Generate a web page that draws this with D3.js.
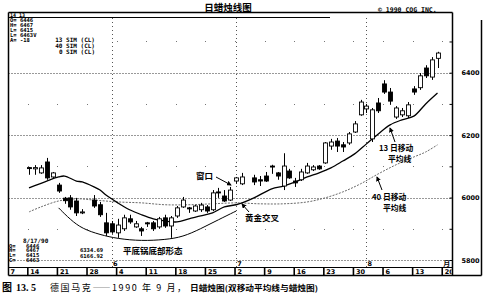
<!DOCTYPE html>
<html lang="zh">
<head>
<meta charset="utf-8">
<title>日蜡烛线图</title>
<script src="https://d3js.org/d3.v7.min.js"></script>
<style>
body { margin: 0; background: #fff; }
svg { display: block; font-family: "DejaVu Sans", sans-serif; }
.cjk { font-family: "Noto Sans CJK SC", sans-serif; font-weight: 700; }
.mono { font-family: "DejaVu Sans Mono", monospace; font-weight: 700; }
.num { font-family: "DejaVu Sans", sans-serif; font-weight: 700; }
</style>
</head>
<body>
<svg width="483" height="297"></svg>
<script>
// daily candles, German mark, May - Aug 1990
var candleDates = ["5/14","5/15","5/16","5/17","5/18","5/21","5/22","5/23","5/24","5/25",
  "5/29","5/30","5/31","6/1","6/4","6/5","6/6","6/7","6/8","6/11","6/12","6/13","6/14","6/15",
  "6/18","6/19","6/20","6/21","6/22","6/25","6/26","6/27","6/28","6/29","7/2","7/3","7/5","7/6",
  "7/9","7/10","7/11","7/12","7/13","7/16","7/17","7/18","7/19","7/20","7/23","7/24","7/25","7/26",
  "7/27","7/30","7/31","8/1","8/2","8/3","8/6","8/7","8/8","8/9","8/10","8/13","8/14","8/15","8/16","8/17"];
var openV  = [6096,6092,6079,6114,6066,6040,5998,5999,5989,5951,5992,5977,5919,5916,5887,5900,5932,5906,5900,5919,5919,5906,5935,5909,
  5941,5970,5967,5957,5961,5970,5961,6018,6005,5992,6053,6044,6063,6057,6069,6101,6079,6037,6085,6053,6057,6079,6089,6101,
  6111,6165,6181,6169,6175,6210,6265,6284,6188,6303,6364,6338,6258,6265,6262,6348,6352,6415,6386,6446];
var highV  = [6098,6104,6104,6127,6082,6047,6002,6008,5999,5963,6008,5986,5951,5925,5932,5945,5945,5925,5906,5922,5925,5938,5945,5941,
  5973,6002,5970,5976,5983,5976,6024,6031,6024,6034,6066,6079,6073,6069,6082,6105,6082,6142,6092,6063,6092,6111,6104,6104,
  6178,6188,6191,6178,6210,6245,6313,6300,6287,6319,6376,6351,6293,6287,6306,6357,6399,6424,6450,6467];
var lowV   = [6073,6073,6076,6057,6063,6015,5980,5961,5941,5947,5967,5938,5877,5884,5871,5893,5916,5903,5877,5906,5893,5900,5903,5871,
  5935,5967,5951,5954,5954,5951,5957,5999,5986,5989,6044,6040,6040,6037,6050,6076,6057,6024,6060,6034,6053,6076,6085,6089,
  6108,6153,6146,6146,6169,6207,6262,6271,6178,6271,6332,6297,6252,6258,6255,6329,6345,6383,6377,6415];
var closeV = [6094,6096,6095,6063,6079,6021,5990,5970,5951,5954,5973,5945,5887,5890,5912,5935,5922,5916,5893,5918,5900,5932,5909,5935,
  5967,5992,5966,5973,5976,5957,6015,6015,5989,6024,6063,6066,6050,6053,6053,6098,6069,6101,6063,6047,6082,6101,6098,6092,
  6175,6178,6165,6162,6204,6236,6306,6293,6281,6278,6338,6309,6287,6278,6297,6338,6390,6390,6441,6463];

// 13-day and 40-day simple moving averages, read at a few dates
var ma13Dates = ["5/14","5/17","5/21","5/22","5/24","5/25","5/29","5/30","5/31","6/4","6/6","6/8","6/12","6/14","6/18","6/20",
  "6/22","6/26","6/28","7/2","7/3","7/5","7/10","7/12","7/16","7/18","7/20","7/24","7/26","7/30","8/1","8/3","8/7","8/9","8/13","8/15","8/17"];
var ma13Vals = [6031,6053,6066,6069,6053,6050,6034,6024,6008,5983,5961,5945,5932,5925,5922,5932,
  5941,5951,5970,5977,5983,5999,6028,6037,6050,6066,6079,6095,6117,6140,6172,6204,6233,6249,6261,6300,6335];
var ma40Dates = ["5/14","5/16","5/21","5/24","5/29","6/4","6/8","6/14","6/20","6/26","7/2","7/6","7/12","7/18","7/23","7/26",
  "7/31","8/3","8/8","8/13","8/15","8/17"];
var ma40Vals = [5954,5970,5989,5996,5992,5986,5983,5977,5977,5980,5983,5980,5980,5986,5999,6018,
  6044,6076,6105,6130,6146,6169];

// hand-drawn "frying pan bottom" arc
var panDates = ["5/21","5/23","5/25","5/30","6/4","6/8","6/14","6/19","6/22","6/27","7/2"];
var panVals  = [5967,5929,5900,5881,5868,5861,5865,5874,5900,5929,5957];

var weekStarts = ["5/7","5/14","5/21","5/28","6/4","6/11","6/18","6/25","7/2","7/9","7/16","7/23","7/30","8/6","8/13","8/20"];
var weekLabels = ["7","14","21","28","4","11","18","25","2","9","16","23","30","6","13","20"];
var monthStarts = ["6/1","7/2","8/1"];
var monthLabels = ["6","7","8"];
var priceTicks = [5800,6000,6200,6400];
var minorLevels = [5900,6100,6300,6500];

var svg = d3.select("svg");
var pLeft = 8.5, pRight = 452.5, pTop = 12.5, pBottom = 267.5, stripBottom = 275.5;

var base = new Date(1990, 4, 7);
function slotOf(s) {
  var p = s.split("/");
  var n = d3.timeDay.count(base, new Date(1990, +p[0] - 1, +p[1]));
  return Math.floor(n / 7) * 5 + n % 7;
}

var x = d3.scaleLinear().domain([5, 74]).range([29, 437.5]);
var y = d3.scaleLinear().domain([5800, 6400]).range([260, 72.7]);

svg.append("rect").attr("width", 483).attr("height", 297).attr("fill", "#fff");

var defs = svg.append("defs");
defs.append("clipPath").attr("id", "plotclip")
  .append("rect").attr("x", pLeft + 0.5).attr("y", pTop + 0.5)
  .attr("width", pRight - pLeft - 1).attr("height", pBottom - pTop - 1);
defs.append("clipPath").attr("id", "stripclip")
  .append("rect").attr("x", pLeft).attr("y", pBottom).attr("width", pRight - pLeft - 1).attr("height", 9);
defs.append("marker").attr("id", "arr")
  .attr("viewBox", "0 0 6 6").attr("refX", 5).attr("refY", 3)
  .attr("markerWidth", 5).attr("markerHeight", 5).attr("orient", "auto")
  .append("path").attr("d", "M0,0L6,3L0,6z").attr("fill", "#000");

// grid
var grid = svg.append("g");
grid.selectAll(".hg").data(priceTicks).enter().append("line")
  .attr("x1", pLeft).attr("x2", pRight)
  .attr("y1", function(d) { return Math.round(y(d)) + 0.5; })
  .attr("y2", function(d) { return Math.round(y(d)) + 0.5; })
  .attr("stroke", "#333").attr("stroke-width", 1).attr("stroke-dasharray", "1,2");
grid.selectAll(".vg").data(monthStarts).enter().append("line")
  .attr("x1", function(d) { return Math.round(x(slotOf(d))) + 0.5; })
  .attr("x2", function(d) { return Math.round(x(slotOf(d))) + 0.5; })
  .attr("y1", 18).attr("y2", pBottom)
  .attr("stroke", "#555").attr("stroke-width", 1).attr("stroke-dasharray", "1,3");
minorLevels.forEach(function(v) {
  grid.selectAll(null).data(weekStarts.slice(1)).enter().append("rect")
    .attr("x", function(d) { return Math.round(x(slotOf(d) - 0.2)); })
    .attr("y", Math.round(y(v)))
    .attr("width", 1).attr("height", 1).attr("fill", "#777");
});

// frame
var frame = svg.append("g").attr("stroke", "#000").attr("fill", "none");
frame.append("line").attr("x1", pLeft).attr("x2", pRight).attr("y1", pTop).attr("y2", pTop).attr("stroke-width", 1.5);
frame.append("line").attr("x1", pLeft).attr("x2", 330).attr("y1", 17.5).attr("y2", 17.5).attr("stroke-width", 1.2);
frame.append("line").attr("x1", pLeft).attr("x2", pLeft).attr("y1", pTop).attr("y2", stripBottom).attr("stroke-width", 1.5);
frame.append("line").attr("x1", pRight).attr("x2", pRight).attr("y1", pTop).attr("y2", stripBottom).attr("stroke-width", 1.5);
frame.append("line").attr("x1", 481.5).attr("x2", 481.5).attr("y1", 20).attr("y2", stripBottom).attr("stroke-width", 1.5);
frame.append("line").attr("x1", pLeft).attr("x2", pRight).attr("y1", pBottom).attr("y2", pBottom).attr("stroke-width", 1.2);
frame.append("line").attr("x1", pLeft).attr("x2", 481.5).attr("y1", stripBottom).attr("y2", stripBottom).attr("stroke-width", 1.5);

// date strip
var strip = svg.append("g");
strip.selectAll("line").data(weekStarts.slice(1)).enter().append("line")
  .attr("x1", function(d) { return x(slotOf(d) - 0.2); })
  .attr("x2", function(d) { return x(slotOf(d) - 0.2); })
  .attr("y1", pBottom).attr("y2", stripBottom)
  .attr("stroke", "#000").attr("stroke-width", 1.6);
strip.selectAll("text").data(weekLabels).enter().append("text")
  .attr("class", "num").attr("font-size", 6.5)
  .attr("x", function(d, i) { return i === 0 ? pLeft + 2 : x(slotOf(weekStarts[i]) - 0.2) + 2.5; })
  .attr("y", 274)
  .attr("clip-path", "url(#stripclip)")
  .text(function(d) { return d; });
strip.selectAll(".ml").data(monthLabels).enter().append("text")
  .attr("class", "num").attr("font-size", 6.5)
  .attr("x", function(d, i) { return x(slotOf(monthStarts[i])) + 1; })
  .attr("y", 266).text(function(d) { return d; });
strip.append("text").attr("class", "cjk").attr("font-size", 7)
  .attr("x", x(slotOf("8/20") - 0.2) + 1).attr("y", 266).text("月");

// right price axis
var axis = svg.append("g").attr("transform", "translate(" + pRight + ",0)")
  .call(d3.axisRight(y).tickValues(d3.range(5800, 6600, 100)).tickSize(-3).tickPadding(9)
    .tickFormat(function(v) { return (v % 200 === 0 && v <= 6400) ? v : ""; }));
axis.select(".domain").remove();
axis.selectAll("line").attr("stroke", "#000");
axis.selectAll("text").attr("class", "num").attr("font-size", 6.5).attr("fill", "#000")
  .attr("font-family", "DejaVu Sans").attr("font-weight", 700);

// candles and averages
var plot = svg.append("g").attr("clip-path", "url(#plotclip)");

var line = d3.line()
  .x(function(d) { return x(slotOf(d[0])); })
  .y(function(d) { return y(d[1]); })
  .curve(d3.curveCatmullRom.alpha(0.5));

plot.append("path").datum(d3.zip(ma40Dates, ma40Vals)).attr("d", line)
  .attr("fill", "none").attr("stroke", "#6a6a6a").attr("stroke-width", 1).attr("stroke-dasharray", "2,1.3");
plot.append("path").datum(d3.zip(ma13Dates, ma13Vals)).attr("d", line)
  .attr("fill", "none").attr("stroke", "#000").attr("stroke-width", 1.3);
plot.append("path").datum(d3.zip(panDates, panVals))
  .attr("d", d3.line().x(function(d) { return x(slotOf(d[0])); }).y(function(d) { return y(d[1]); }).curve(d3.curveBasis))
  .attr("fill", "none").attr("stroke", "#000").attr("stroke-width", 1);

var bars = candleDates.map(function(d, i) {
  return { s: slotOf(d), o: openV[i], h: highV[i], l: lowV[i], c: closeV[i] };
});
var bw = 4;
var cg = plot.selectAll(".candle").data(bars).enter().append("g");
cg.append("line")
  .attr("x1", function(d) { return Math.round(x(d.s)) + 0.5; })
  .attr("x2", function(d) { return Math.round(x(d.s)) + 0.5; })
  .attr("y1", function(d) { return y(d.h); })
  .attr("y2", function(d) { return y(d.l); })
  .attr("stroke", "#000").attr("stroke-width", 1);
cg.append("rect")
  .attr("x", function(d) { return Math.round(x(d.s)) + 0.5 - bw / 2; })
  .attr("y", function(d) { return y(Math.max(d.o, d.c)); })
  .attr("width", bw)
  .attr("height", function(d) { return Math.max(1, Math.abs(y(d.o) - y(d.c))); })
  .attr("fill", function(d) { return d.c >= d.o ? "#fff" : "#000"; })
  .attr("stroke", "#000").attr("stroke-width", 0.9);

// header and info texts
svg.append("text").attr("class", "cjk").attr("font-size", 9.5)
  .attr("x", 228).attr("y", 10.5).attr("text-anchor", "middle").text("日蜡烛线图");
svg.append("text").attr("class", "mono").attr("font-size", 6.5)
  .attr("x", 378).attr("y", 11.5).text("© 1990 CQG INC.");
svg.append("text").attr("class", "mono").attr("font-size", 5).attr("x", 10).attr("y", 16.5).text("14 13");

var topInfo = ["O= 6446", "H= 6467", "L= 6415", "L= 6463V"];
svg.selectAll(".ti").data(topInfo).enter().append("text")
  .attr("class", "mono").attr("font-size", 5.5)
  .attr("x", 10).attr("y", function(d, i) { return 22 + i * 5; })
  .text(function(d) { return d; });
svg.append("text").attr("class", "mono").attr("font-size", 5.5).attr("x", 10).attr("y", 42).text("A=  -18");
var simInfo = ["13 SIM (CL)", "40 SIM (CL)", "0 SIM (CL)"];
svg.selectAll(".si").data(simInfo).enter().append("text")
  .attr("class", "mono").attr("font-size", 6).attr("text-anchor", "end")
  .attr("x", 95).attr("y", function(d, i) { return 42 + i * 6; })
  .text(function(d) { return d; });

svg.append("text").attr("class", "mono").attr("font-size", 6).attr("x", 23).attr("y", 242.5).text("8/17/90");
var botKeys = ["O=", "H=", "L=", "C="], botVals = ["6446", "6467", "6415", "6463"];
botKeys.forEach(function(k, i) {
  svg.append("text").attr("class", "mono").attr("font-size", 5.5).attr("x", 9).attr("y", 247.5 + i * 4.8).text(k);
  svg.append("text").attr("class", "mono").attr("font-size", 5.5).attr("x", 26).attr("y", 247.5 + i * 4.8).text(botVals[i]);
});
svg.append("text").attr("class", "mono").attr("font-size", 5.5).attr("x", 80).attr("y", 252).text("6334.69");
svg.append("text").attr("class", "mono").attr("font-size", 5.5).attr("x", 80).attr("y", 257.5).text("6166.92");

// annotations
function note(txt, tx, ty, fs, x1, y1, x2, y2) {
  svg.append("text").attr("class", "cjk").attr("font-size", fs).attr("x", tx).attr("y", ty).text(txt);
  if (x1 !== undefined) {
    svg.append("line").attr("x1", x1).attr("y1", y1).attr("x2", x2).attr("y2", y2)
      .attr("stroke", "#000").attr("stroke-width", 1).attr("marker-end", "url(#arr)");
  }
}
note("平底锅底部形态", 123, 254, 8.5);
note("窗口", 196, 179, 8.5, 216, 177, 231, 185);
note("黄金交叉", 245, 221, 8.5, 249, 212, 242, 204);
note("13 日移动", 379, 151, 7.8, 395, 142, 390, 128);
note("平均线", 388, 161.5, 7.8);
note("40 日移动", 372, 200, 7.8, 382, 190, 377, 177);
note("平均线", 383, 210.5, 7.8);

// caption
var cap = svg.append("g");
cap.append("text").attr("class", "cjk").attr("font-size", 10).attr("x", 2).attr("y", 291).text("图");
cap.append("text").attr("font-family", "Liberation Serif").attr("font-weight", 700).attr("font-size", 10)
  .attr("x", 16).attr("y", 291).text("13. 5");
cap.append("text").attr("font-family", "Noto Sans CJK SC").attr("font-size", 9)
  .attr("x", 50).attr("y", 291).attr("textLength", 136).attr("lengthAdjust", "spacing")
  .text("德国马克——1990 年 9 月，");
cap.append("text").attr("class", "cjk").attr("font-size", 7.5)
  .attr("x", 190).attr("y", 291).attr("textLength", 128).attr("lengthAdjust", "spacingAndGlyphs")
  .text("日蜡烛图(双移动平均线与蜡烛图)");
</script>
</body>
</html>
